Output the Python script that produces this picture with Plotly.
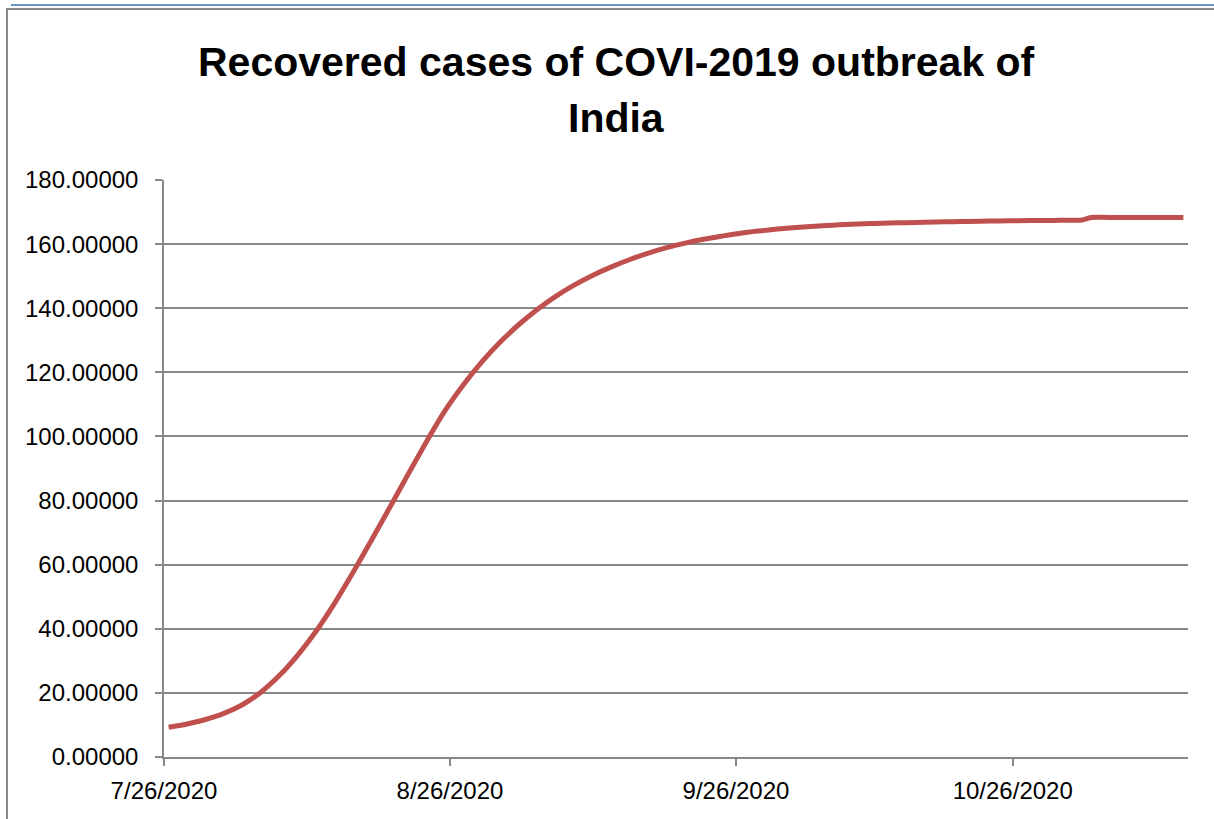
import datetime as dt
import plotly.graph_objects as go

# Recovered cases (in lakh) per reporting date
dates = [
    "2020-07-26", "2020-07-28", "2020-07-30", "2020-08-01", "2020-08-03",
    "2020-08-05", "2020-08-07", "2020-08-09", "2020-08-11", "2020-08-13",
    "2020-08-15", "2020-08-17", "2020-08-19", "2020-08-21", "2020-08-23",
    "2020-08-25", "2020-08-27", "2020-08-29", "2020-08-31", "2020-09-02",
    "2020-09-04", "2020-09-06", "2020-09-08", "2020-09-10", "2020-09-12",
    "2020-09-14", "2020-09-16", "2020-09-18", "2020-09-20", "2020-09-22",
    "2020-09-24", "2020-09-26", "2020-09-28", "2020-09-30", "2020-10-02",
    "2020-10-04", "2020-10-06", "2020-10-08", "2020-10-10", "2020-10-12",
    "2020-10-14", "2020-10-16", "2020-10-18", "2020-10-20", "2020-10-22",
    "2020-10-24", "2020-10-26", "2020-10-28", "2020-10-30", "2020-11-01",
    "2020-11-02", "2020-11-03", "2020-11-05", "2020-11-07", "2020-11-09",
    "2020-11-11", "2020-11-13",
]
recovered = [
    9.3, 10.3, 11.7, 13.6, 16.3,
    20.2, 25.4, 31.8, 39.3, 48.0,
    57.6, 67.7, 78.0, 88.4, 98.6,
    108.2, 116.3, 123.4, 129.6, 135.0,
    139.7, 143.8, 147.3, 150.3, 152.9,
    155.2, 157.2, 158.9, 160.3, 161.5,
    162.5, 163.4, 164.1, 164.7, 165.2,
    165.6, 165.9, 166.2, 166.4, 166.6,
    166.7, 166.85, 166.95, 167.05, 167.15,
    167.2, 167.3, 167.35, 167.4, 167.45,
    167.5, 168.3, 168.3, 168.3, 168.3,
    168.3, 168.3,
]

tick_dates = ["2020-07-26", "2020-08-26", "2020-09-26", "2020-10-26"]
tick_labels = ["7/26/2020", "8/26/2020", "9/26/2020", "10/26/2020"]

title_lines = ["Recovered cases of COVI-2019 outbreak of", "India"]

# each daily value sits in the middle of its day
x_vals = [dt.datetime.fromisoformat(d) + dt.timedelta(hours=12) for d in dates]

W, H = 1214, 819
ML, MR, MT, MB = 164, 26, 180, 62
PW, PH = W - ML - MR, H - MT - MB

def px_x(p):
    return (p - ML) / PW

def px_y(p):
    return 1 - (p - MT) / PH

grid_col = "#888888"
font_family = "Liberation Sans, Arial, sans-serif"

fig = go.Figure()
fig.add_trace(go.Scatter(
    x=x_vals, y=recovered, mode="lines",
    line=dict(color="#C0504D", width=5, shape="spline", smoothing=1.0),
    showlegend=False, hoverinfo="x+y",
))

title_annotations = [
    dict(text=line, xref="paper", yref="paper",
         x=px_x(616), y=px_y(yc), xanchor="center", yanchor="middle",
         showarrow=False,
         font=dict(family=font_family, size=41, color="black", weight="bold"))
    for line, yc in zip(title_lines, [62, 118])
]

fig.update_layout(
    width=W, height=H,
    margin=dict(l=ML, r=MR, t=MT, b=MB, pad=0, autoexpand=False),
    paper_bgcolor="white", plot_bgcolor="white",
    font=dict(family=font_family, color="black", size=24),
    annotations=title_annotations,
    xaxis=dict(
        type="date", automargin=False,
        range=["2020-07-26", "2020-11-14"],
        tickvals=tick_dates, ticktext=tick_labels,
        showgrid=False, zeroline=False,
        showline=True, linecolor=grid_col, linewidth=1.5,
        ticks="outside", ticklen=7, tickwidth=1.5, tickcolor=grid_col,
        ticklabelstandoff=4,
        tickfont=dict(size=24, family=font_family, color="black"),
    ),
    yaxis=dict(
        automargin=False,
        range=[0, 180], dtick=20, tick0=0, tickformat=".5f",
        showgrid=True, gridcolor=grid_col, gridwidth=1.5,
        zeroline=False,
        showline=True, linecolor=grid_col, linewidth=1.5,
        ticks="outside", ticklen=7, tickwidth=1.5, tickcolor=grid_col,
        ticklabelstandoff=12,
        tickfont=dict(size=24, family=font_family, color="black"),
    ),
    shapes=[
        # chart frame
        dict(type="rect", xref="paper", yref="paper",
             x0=px_x(7), x1=px_x(1230), y0=px_y(9), y1=px_y(830),
             line=dict(color="#8a8a8a", width=2), fillcolor="rgba(0,0,0,0)",
             layer="below"),
        # blue rule across the top
        dict(type="line", xref="paper", yref="paper",
             x0=px_x(11), x1=px_x(1220), y0=px_y(5), y1=px_y(5),
             line=dict(color="#6B93C9", width=2)),
    ],
)

fig.write_html("out.html")
